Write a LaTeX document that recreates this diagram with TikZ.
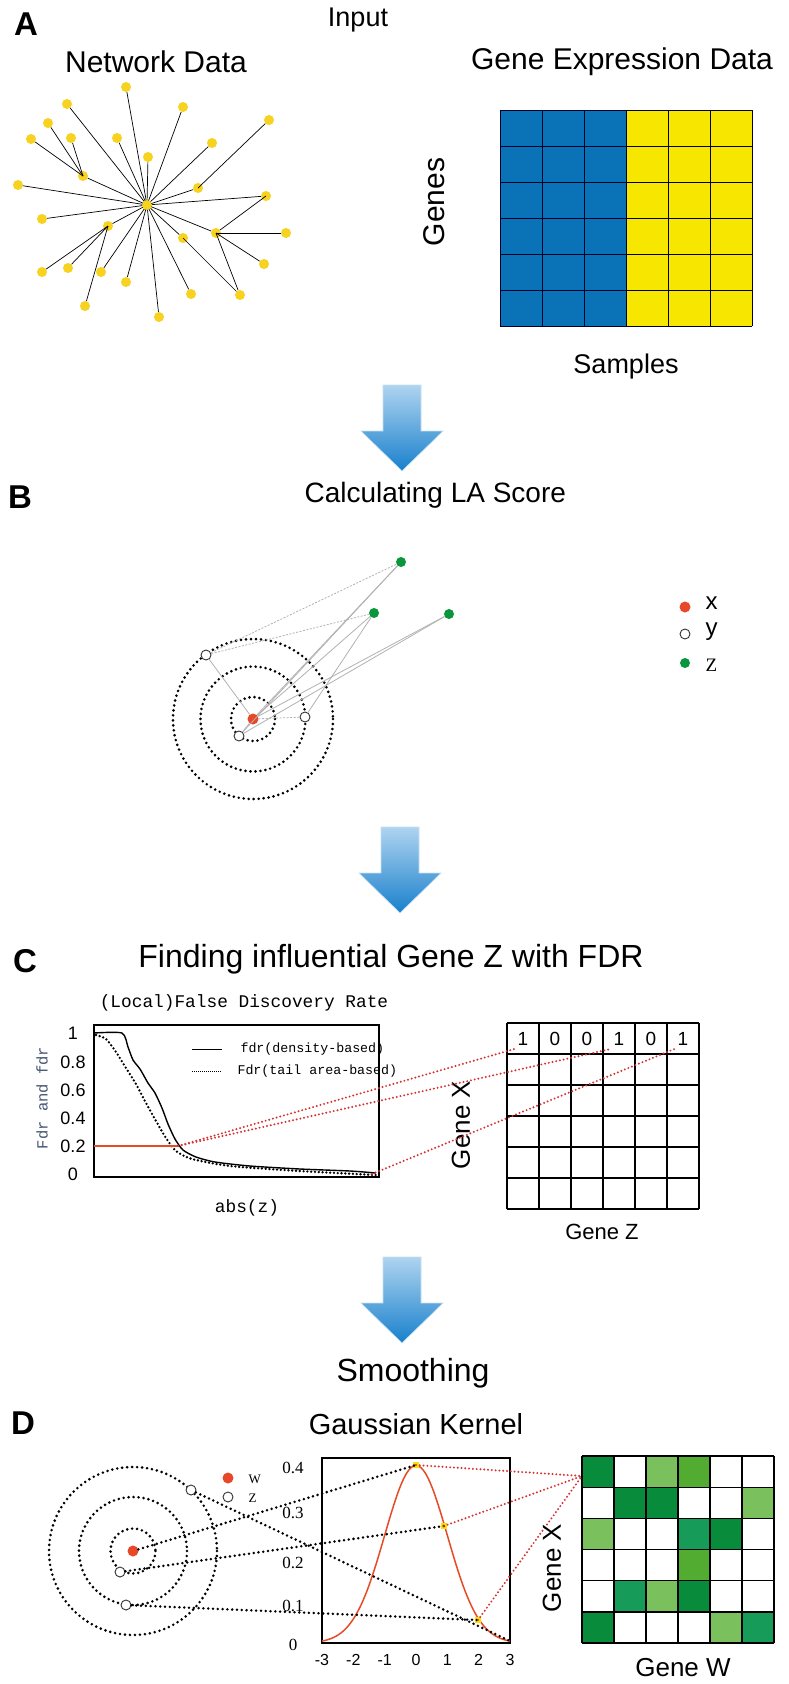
\documentclass[tikz,border=0pt]{standalone}
\usepackage{fontspec}
\setmainfont{Liberation Sans}
\newfontfamily\serifb{Liberation Serif}
\newfontfamily\monob{Liberation Mono}
\newcommand\fsz[1]{\fontsize{#1}{#1}\selectfont}
\definecolor{netyel}{RGB}{247,210,30}
\definecolor{mblue}{RGB}{10,114,183}
\definecolor{myel}{RGB}{246,230,0}
\definecolor{atop}{RGB}{175,212,240}
\definecolor{abot}{RGB}{24,128,204}
\definecolor{rdotc}{RGB}{232,72,40}
\definecolor{gdotc}{RGB}{10,150,60}
\definecolor{redln}{RGB}{230,75,40}
\definecolor{rdots}{RGB}{215,50,50}
\definecolor{axlab}{RGB}{70,85,115}
\definecolor{gdark}{RGB}{8,140,60}
\definecolor{gteal}{RGB}{22,155,88}
\definecolor{gmed}{RGB}{82,172,50}
\definecolor{glight}{RGB}{122,192,92}
\definecolor{yelpt}{RGB}{250,225,0}
\tikzset{
  ydot/.style={circle,fill=netyel,inner sep=0pt,minimum size=10pt},
  edgeA/.style={black,line width=0.7pt},
  rnode/.style={circle,fill=rdotc,inner sep=0pt,minimum size=11pt},
  onode/.style={circle,draw=black!80,fill=white,line width=0.9pt,inner sep=0pt,minimum size=10pt},
  gnode/.style={circle,fill=gdotc,inner sep=0pt,minimum size=10pt},
  ring/.style={line width=2.9pt,dash pattern=on 0pt off 5pt,line cap=round},
  greyln/.style={black!30,line width=0.8pt},
  greydash/.style={black!30,line width=0.8pt,dash pattern=on 2pt off 1.5pt},
  reddots/.style={rdots,line width=2.2pt,dash pattern=on 0pt off 3.8pt,line cap=round},
  blkdots/.style={black,line width=2.8pt,dash pattern=on 0pt off 4.8pt,line cap=round},
  ttl/.style={font=\fsz{30}},
  plab/.style={font=\fsz{33}\bfseries},
  bigarrow/.pic={
    \shade[top color=atop,bottom color=abot,draw=atop!70!white,line width=0.6pt]
      (-19,0) -- (19,0) -- (19,46) -- (41,46) -- (0,86) -- (-41,46) -- (-19,46) -- cycle;
  },
}
\begin{document}
\begin{tikzpicture}[x=1pt,y=-1pt]
\useasboundingbox (0,0) rectangle (788,1684);
\fill[white] (0,0) rectangle (788,1684);

%% ---------------- A ----------------
\node[plab] (lA) at (26,24) {A};
\node[font=\fsz{27}] (tInput) at (358,20) {Input};
\node[ttl] (tNet) at (156,62) {Network Data};
\node[ttl] (tGED) at (622,62) {Gene Expression Data};

\foreach \n/\x/\y in {1/126/87,2/67/104,3/183/107,4/269/120,5/48/123,6/31/139,7/71/138,
  8/117/138,9/212/143,10/148/157,11/83/176,12/18/185,13/198/188,14/147/205,15/266/196,
  16/42/219,17/108/226,18/216/233,19/286/233,20/183/238,21/42/272,22/68/268,23/101/272,
  24/264/264,25/126/282,26/191/294,27/240/295,28/85/306,29/159/317}
  \node[ydot] (a\n) at (\x,\y) {};
\foreach \p/\q in {14/1,14/2,14/3,14/13,13/4,14/9,14/8,14/10,14/11,11/5,11/6,11/7,14/12,
  14/15,15/18,14/18,18/19,18/24,18/27,14/20,20/27,14/16,14/17,17/21,17/22,17/28,14/23,
  14/25,14/26,14/29}
  \draw[edgeA] (a\p.center) -- (a\q);
\node[ydot] at (a14) {};

% expression matrix
\fill[mblue] (500,110) rectangle (626,326);
\fill[myel] (626,110) rectangle (752,326);
\foreach \i in {0,...,6} \draw[black!85!blue,line width=0.8pt] (500+42*\i,110) -- (500+42*\i,326);
\foreach \j in {0,...,6} \draw[black!85!blue,line width=0.8pt] (500,110+36*\j) -- (752,110+36*\j);
\node[ttl,rotate=90] (tGenes) at (434,202) {Genes};
\node[font=\fsz{27}] (tSamples) at (626,367) {Samples};

\pic at (402,385) {bigarrow};

%% ---------------- B ----------------
\node[plab] (lB) at (20,497) {B};
\node[font=\fsz{28},anchor=west] (tLA) at (301,495) {Calculating LA Score};

\draw[ring] (253,719) circle[radius=22];
\draw[ring] (253,719) circle[radius=52.5];
\draw[ring] (253,719) circle[radius=80];

\node[rnode] (r) at (253,719) {};
\node[onode] (o1) at (206,655) {};
\node[onode] (o2) at (305,717) {};
\node[onode] (o3) at (239,736) {};
\node[gnode] (g1) at (401,562) {};
\node[gnode] (g2) at (374,613) {};
\node[gnode] (g3) at (449,614) {};
\draw[greydash] (o1) -- (g1);
\draw[greydash] (o1) -- (g2);
\draw[greyln] (o1) -- (r);
\draw[greyln] (r) -- (g1);
\draw[greyln] (r) -- (g2);
\draw[greyln] (r) -- (g3);
\draw[greydash] (r) -- (o2);
\draw[greyln] (r) -- (o3);
\draw[greyln] (o2) -- (g2);
\draw[greyln] (o3) -- (g3);
\draw[greyln] (o3) -- (g1);

\node[rnode] (lx) at (685,607) {};
\node[onode] (ly) at (685,634) {};
\node[gnode] (lz) at (685,663) {};
\node[font=\fsz{24},anchor=west] (tx) at (702,603) {x};
\node[font=\fsz{24},anchor=west] (ty) at (702,632) {y};
\node[font=\fsz{19}\serifb,anchor=west] (tz) at (702,665) {Z};

\pic at (400,827) {bigarrow};

%% ---------------- C ----------------
\node[plab] (lC) at (25,961) {C};
\node[font=\fsz{32}] (tFind) at (391,959) {Finding influential Gene Z with FDR};
\node[font=\fsz{17.8}\monob] (tLFDR) at (244,1003) {(Local)False Discovery Rate};

\draw[line width=1.2pt] (94,1025) rectangle (379,1177);
\foreach \v/\y in {1/1033,0.8/1062,0.6/1090,0.4/1118,0.2/1146,0/1174}
  \node[font=\fsz{18}] at (73,\y) {\v};
\node[font=\fsz{15.5}\monob,text=axlab,rotate=90] (tFdr) at (42,1098) {Fdr and fdr};
\node[font=\fsz{17.8}\monob] (tabs) at (247,1208) {abs(z)};

% legend
\draw[line width=0.9pt] (192,1049) -- (222,1049);
\draw[black,line width=0.8pt,dash pattern=on 1pt off 1pt] (192,1071) -- (222,1071);
\node[font=\fsz{13.3}\monob,anchor=west] (tfdr) at (237,1049) {fdr(density-based)};
\node[font=\fsz{13.3}\monob,anchor=west] (tFdrt) at (234,1071) {Fdr(tail area-based)};

% curves
\draw[line width=1.4pt] plot[smooth,tension=0.4] coordinates {(94,1033) (122,1033) (128,1047) (133,1060)
  (140,1069) (148,1083) (155,1093) (162,1108) (168,1124) (175,1139) (183,1150) (196,1157) (215,1162)
  (250,1166) (300,1169) (350,1171) (376,1173)};
\draw[black,line width=2.6pt,dash pattern=on 0pt off 3.8pt,line cap=round] plot[smooth,tension=0.4]
  coordinates {(96,1035) (106,1039) (116,1052) (126,1068) (136,1084) (146,1103) (156,1121) (166,1138)
  (176,1151) (192,1159) (230,1166) (300,1171) (376,1175)};

\coordinate (cr) at (178,1146);
\coordinate (cend) at (372,1174);
\draw[redln,line width=1.6pt] (94,1146) -- (cr);

% matrix C
\foreach \i in {0,...,6} \draw[line width=1.3pt] (507+32*\i,1023) -- (507+32*\i,1209);
\foreach \j in {0,...,6} \draw[line width=1.3pt] (507,1023+31*\j) -- (699,1023+31*\j);
\foreach \v [count=\k] in {1,0,0,1,0,1}
  \node[font=\fsz{19}] (c\k) at (507+32*\k-16,1039) {\v};
\node[font=\fsz{26},rotate=90] (tGX1) at (461,1125) {Gene X};
\node[font=\fsz{22}] (tGZ) at (602,1232) {Gene Z};

\draw[reddots] (cr) -- (c1.south west);
\draw[reddots] (cr) -- (c4.south west);
\draw[reddots] (cend) -- (c6.south west);

\pic at (402,1257) {bigarrow};

%% ---------------- D ----------------
\node[font=\fsz{32}] (tSmooth) at (413,1373) {Smoothing};
\node[plab] (lD) at (23,1423) {D};
\node[font=\fsz{29}] (tGauss) at (416,1424) {Gaussian Kernel};

\draw[ring] (133,1551) circle[radius=22.5];
\draw[ring] (133,1551) circle[radius=54];
\draw[ring] (133,1551) circle[radius=84];

\node[rnode] (w) at (133,1551) {};
\node[onode] (z1) at (191,1490) {};
\node[onode] (z2) at (120,1572) {};
\node[onode] (z3) at (126,1605) {};

\node[rnode] (lw) at (228,1478) {};
\node[onode] (lzz) at (228,1497) {};
\node[font=\fsz{13}\serifb,anchor=west] (tw) at (245,1479) {W};
\node[font=\fsz{13}\serifb,anchor=west] (tzz) at (245,1498) {Z};

% gaussian plot
\draw[line width=1.3pt] (322,1458) rectangle (510,1643);
\foreach \v/\y in {0.4/1468,0.3/1513,0.2/1563,0.1/1606,0/1645}
  \node[font=\fsz{17}\serifb] at (293,\y) {\v};
\foreach \v [count=\k from 0] in {-3,-2,-1,0,1,2,3}
  \node[font=\fsz{16}] at (322+31.33*\k,1660) {\v};
\draw[redln,line width=1.5pt] plot[domain=-3:3,samples=90,smooth] ({416+31.33*\x},{1643-445*0.39894*exp(-\x*\x/2)});

\node[rectangle,fill=yelpt,inner sep=0pt,minimum size=6pt] (p0) at (416,1465) {};
\node[rectangle,fill=yelpt,inner sep=0pt,minimum size=6pt] (p1) at (444,1526) {};
\node[rectangle,fill=yelpt,inner sep=0pt,minimum size=6pt] (p2) at (478,1620) {};
\coordinate (p3) at (510,1641);

\draw[blkdots] (w) -- (p0.center);
\draw[blkdots] (z2) -- (p1.center);
\draw[blkdots] (z1) -- (p3);
\draw[blkdots] (z3) -- (p2.center);

% green matrix
\foreach \r/\row in {0/{gdark,white,glight,gmed,white,white},
                     1/{white,gdark,gdark,white,white,glight},
                     2/{glight,white,white,gteal,gdark,white},
                     3/{white,white,white,gmed,white,white},
                     4/{white,gteal,glight,gdark,white,white},
                     5/{gdark,white,white,white,glight,gteal}}{
  \foreach \c [count=\k from 0] in \row
    \fill[\c] (582+32*\k,1456+31.17*\r) rectangle (614+32*\k,1487.17+31.17*\r);
}
\foreach \i in {0,...,6} \draw[line width=1.3pt] (582+32*\i,1456) -- (582+32*\i,1643);
\foreach \j in {0,...,6} \draw[line width=1.3pt] (582,1456+31.17*\j) -- (774,1456+31.17*\j);
\coordinate (dm) at (582,1476);
\draw[reddots] (p0.center) -- (dm);
\draw[reddots] (p1.center) -- (dm);
\draw[reddots] (p2.center) -- (dm);
\node[font=\fsz{26},rotate=90] (tGX2) at (552,1568) {Gene X};
\node[font=\fsz{26}] (tGW) at (683,1668) {Gene W};
\end{tikzpicture}
\end{document}
